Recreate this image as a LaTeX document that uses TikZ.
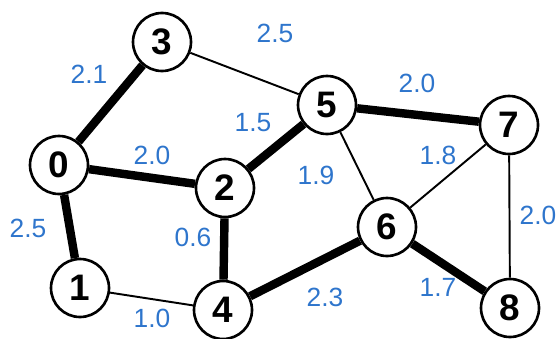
\documentclass[tikz,border=0pt]{standalone}
\usepackage{fontspec}
\setmainfont{Liberation Sans}
\usepackage{tikz}
\usetikzlibrary{positioning}
\definecolor{wblue}{RGB}{46,117,204}

\begin{document}
\begin{tikzpicture}[
    x=0.02cm, y=-0.02cm,
    vertex/.style={draw, circle, line width=1.5pt, fill=white, minimum size=1.16cm, inner sep=0pt, font=\fontsize{21}{21}\selectfont\bfseries},
    weight/.style={text=wblue, inner sep=0pt, font=\fontsize{15}{15}\selectfont},
    light/.style={draw, line width=1.1pt},
    heavy/.style={draw, line width=4.8pt}
]
\useasboundingbox (0,0) rectangle (560,338);

\node[vertex] (v0) at (59,165) {0};
\node[vertex] (v1) at (80,288) {1};
\node[vertex] (v2) at (225,188) {2};
\node[vertex] (v3) at (162,42) {3};
\node[vertex] (v4) at (223,310) {4};
\node[vertex] (v5) at (327,105) {5};
\node[vertex] (v6) at (387,227) {6};
\node[vertex] (v7) at (509,125) {7};
\node[vertex] (v8) at (510,308) {8};

% edge weights
\node[weight] (w03) at (89,74) {2.1};
\node[weight] (w35) at (275,33) {2.5};
\node[weight] (w02) at (152,155) {2.0};
\node[weight] (w01) at (28,228) {2.5};
\node[weight] (w25) at (253,123) {1.5};
\node[weight] (w24) at (193,237) {0.6};
\node[weight] (w14) at (152,318) {1.0};
\node[weight] (w57) at (417,83) {2.0};
\node[weight] (w56) at (316,175) {1.9};
\node[weight] (w67) at (438,155) {1.8};
\node[weight] (w78) at (538,215) {2.0};
\node[weight] (w46) at (325,297) {2.3};
\node[weight] (w68) at (438,287) {1.7};

\draw[light] (v3) -- (v5);
\draw[light] (v1) -- (v4);
\draw[light] (v5) -- (v6);
\draw[light] (v6) -- (v7);
\draw[light] (v7) -- (v8);
\draw[heavy] (v0) -- (v3);
\draw[heavy] (v0) -- (v2);
\draw[heavy] (v0) -- (v1);
\draw[heavy] (v2) -- (v5);
\draw[heavy] (v2) -- (v4);
\draw[heavy] (v5) -- (v7);
\draw[heavy] (v4) -- (v6);
\draw[heavy] (v6) -- (v8);
\end{tikzpicture}
\end{document}
